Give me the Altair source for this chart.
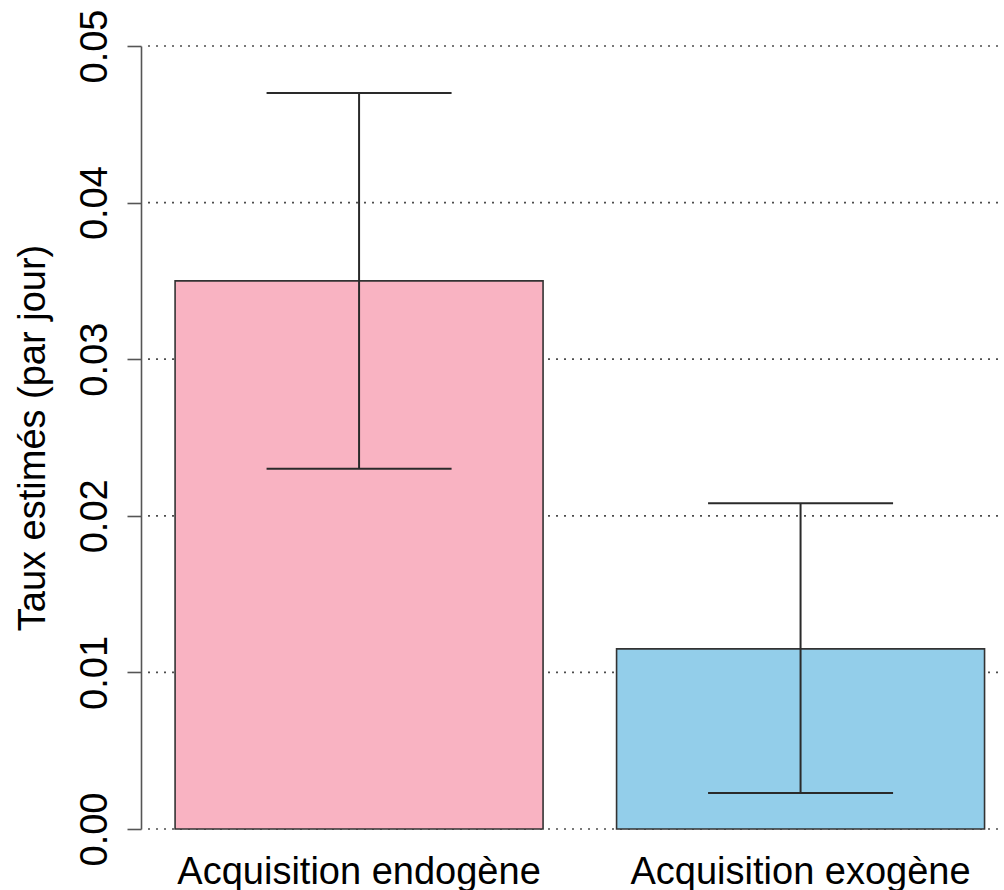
import altair as alt
import pandas as pd

# Estimated daily rates with their confidence bounds
categories = ["Acquisition endogène", "Acquisition exogène"]
rates = [0.035, 0.0115]
lower = [0.023, 0.0023]
upper = [0.047, 0.0208]
fill_colors = ["#F9B3C2", "#93CEEA"]

# Y axis ticks (also used for the dotted reference lines)
y_ticks = [0.0, 0.01, 0.02, 0.03, 0.04, 0.05]

FONT = "Liberation Sans"
FS = 38
W, H = 856, 783

df = pd.DataFrame({"cat": categories, "rate": rates, "lo": lower, "hi": upper})
grid_df = pd.DataFrame({"v": y_ticks})

y_scale = alt.Scale(domain=[0, 0.05], nice=False, zero=True)

x_enc = alt.X(
    "cat:N",
    sort=categories,
    scale=alt.Scale(paddingInner=0.1665, paddingOuter=0.0527, align=0.582),
    axis=alt.Axis(
        title=None, ticks=False, domain=False, labelAngle=0, labelLimit=0,
        labelFont=FONT, labelFontSize=FS, labelColor="black",
        labelPadding=54, labelBaseline="alphabetic",
    ),
)

y_axis = alt.Axis(
    title="Taux estimés (par jour)",
    values=y_ticks, format=".2f", grid=False, offset=7,
    domainColor="#555555", domainWidth=1.6,
    tickColor="#555555", tickWidth=1.6, tickSize=14,
    labelAngle=270, labelAlign="center", labelBaseline="alphabetic",
    labelPadding=21, labelFont=FONT, labelFontSize=FS, labelColor="black",
    labelLimit=0,
    titleFont=FONT, titleFontSize=FS, titleFontWeight="normal", titleColor="black",
    titleAngle=270, titleAlign="center", titleBaseline="alphabetic",
    titleX=-97, titleY=H / 2, titleLimit=0,
)

# Dotted horizontal reference lines, drawn beneath the bars; this layer carries the y axis
grid = alt.Chart(grid_df).mark_rule(
    strokeDash=[2, 6], color="#4d4d4d", strokeWidth=1.7
).encode(
    y=alt.Y("v:Q", scale=y_scale, axis=y_axis),
    x=alt.value(0),
    x2=alt.value(W),
)

bars = alt.Chart(df).mark_bar(stroke="#333333", strokeWidth=1.6, opacity=1).encode(
    x=x_enc,
    y=alt.Y("rate:Q", scale=y_scale, title="Taux estimés (par jour)"),
    color=alt.Color("cat:N", scale=alt.Scale(domain=categories, range=fill_colors), legend=None),
)

whisker = alt.Chart(df).mark_rule(color="#2a2a2a", strokeWidth=2).encode(
    x=x_enc,
    y=alt.Y("lo:Q", scale=y_scale, title="Taux estimés (par jour)"),
    y2="hi:Q",
)

cap_hi = alt.Chart(df).mark_tick(size=185, thickness=2, color="#2a2a2a", opacity=1).encode(
    x=x_enc,
    y=alt.Y("hi:Q", scale=y_scale, title="Taux estimés (par jour)"),
)

cap_lo = alt.Chart(df).mark_tick(size=185, thickness=2, color="#2a2a2a", opacity=1).encode(
    x=x_enc,
    y=alt.Y("lo:Q", scale=y_scale, title="Taux estimés (par jour)"),
)

chart = (
    alt.layer(grid, bars, whisker, cap_hi, cap_lo)
    .properties(
        width=W, height=H,
        padding={"left": 148, "top": 46, "right": 0, "bottom": 61},
        autosize=alt.AutoSizeParams(type="none"),
        background="white",
    )
    .configure_view(stroke=None)
)

chart.save("out.html", embed_options={"renderer": "svg", "actions": False})
